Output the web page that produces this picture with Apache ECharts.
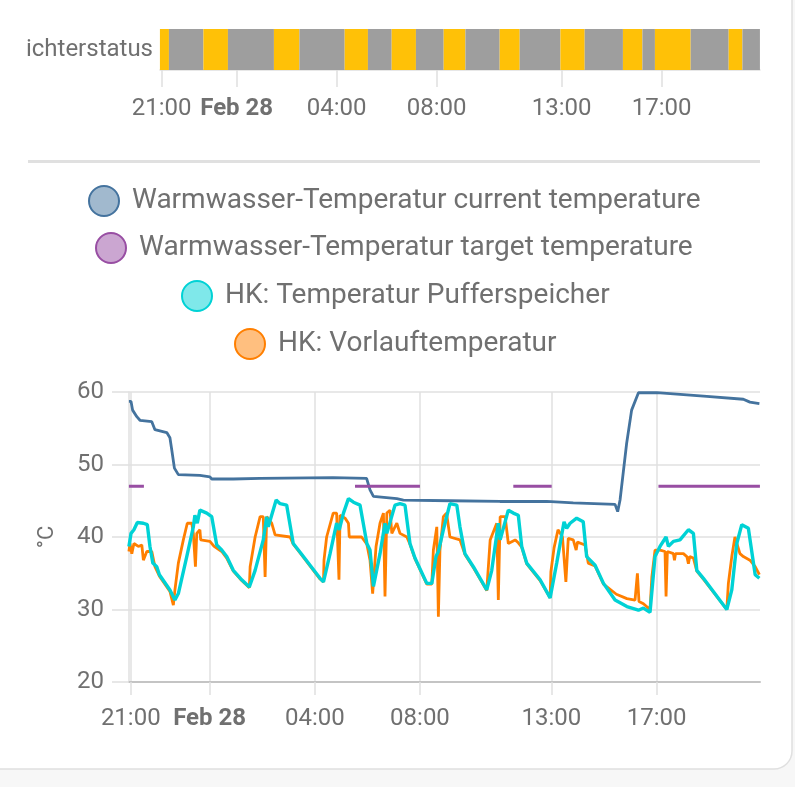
<!DOCTYPE html>
<html>
<head>
<meta charset="utf-8">
<script src="https://cdn.jsdelivr.net/npm/echarts@6/dist/echarts.min.js"></script>
<style>
html,body{margin:0;padding:0;background:#f7f7f7;}
#c{width:795px;height:787px;}
</style>
</head>
<body>
<div id="c"></div>
<script>
// ---- data (hours counted from Feb 27 00:00) ----
const rangeHours = [20.933, 44.933];
const tickHours = [21, 24, 28, 32, 37, 41];

const statusLabel = 'ichterstatus';
const statusBounds = [20.93,21.29,22.67,23.65,25.49,26.51,28.32,29.25,30.20,31.17,32.28,33.15,34.52,35.32,36.95,37.92,39.45,40.23,40.73,42.16,43.68,44.23,44.93];
const statusStates = ['on','off','on','off','on','off','on','off','on','off','on','off','on','off','on','off','on','off','on','off','on','off'];

const seriesNames = [
  'Warmwasser-Temperatur current temperature',
  'Warmwasser-Temperatur target temperature',
  'HK: Temperatur Pufferspeicher',
  'HK: Vorlauftemperatur'
];

const currentTemp = [[20.93,58.7],[21.01,58.7],[21.07,57.5],[21.23,56.6],[21.35,56.1],[21.80,55.9],[21.92,54.8],[22.37,54.4],[22.49,53.7],[22.56,52.0],[22.66,49.5],[22.81,48.6],[23.63,48.5],[24.01,48.3],[24.08,48.0],[24.90,48.0],[25.92,48.1],[28.69,48.2],[29.97,48.1],[30.10,46.5],[30.23,45.6],[31.12,45.3],[31.37,45.1],[33.14,45.0],[35.04,44.9],[36.82,44.9],[37.83,44.7],[39.42,44.5],[39.52,43.5],[39.61,45.1],[39.86,52.9],[40.05,57.5],[40.31,59.9],[41.01,59.9],[42.91,59.4],[44.30,59.0],[44.55,58.6],[44.91,58.4]];

const targetTemp = [[20.93,47],[21.50,47],[21.51,null],[29.53,47],[32.00,47],[32.01,null],[35.55,47],[37.01,47],[37.02,null],[41.07,47],[44.93,47]];

const pufferTemp = [[20.93,38.7],[21.01,40.5],[21.12,41.0],[21.25,42.0],[21.48,41.9],[21.63,41.7],[21.73,38.7],[21.84,36.4],[21.99,35.9],[22.09,34.8],[22.49,32.7],[22.68,31.3],[22.81,32.2],[23.13,37.3],[23.38,41.4],[23.44,43.0],[23.53,41.9],[23.63,43.7],[23.89,43.3],[24.08,42.8],[24.27,38.9],[24.46,38.2],[24.65,37.3],[24.90,35.4],[25.22,34.1],[25.51,33.1],[25.73,35.4],[26.04,39.6],[26.17,42.8],[26.23,41.4],[26.53,45.1],[26.68,44.6],[26.93,44.4],[27.18,39.1],[27.44,37.9],[28.20,34.3],[28.33,33.8],[28.58,37.7],[28.83,41.9],[28.93,41.0],[29.09,43.3],[29.28,45.3],[29.47,44.8],[29.72,44.4],[29.98,39.1],[30.10,38.2],[30.23,33.2],[30.48,37.7],[30.67,41.9],[30.74,40.5],[31.05,44.4],[31.24,44.6],[31.43,44.4],[31.62,39.1],[31.81,37.1],[32.26,33.6],[32.45,33.6],[32.61,37.3],[32.70,38.0],[32.89,41.0],[33.14,44.6],[33.40,44.4],[33.52,41.4],[33.71,37.7],[34.03,35.9],[34.54,32.7],[34.73,35.4],[34.98,41.9],[35.05,39.6],[35.36,43.7],[35.55,43.3],[35.74,43.0],[35.87,38.7],[36.06,36.4],[36.57,34.1],[36.95,31.6],[37.20,36.4],[37.48,42.1],[37.58,41.2],[37.71,41.9],[37.96,42.6],[38.21,42.1],[38.34,37.3],[38.66,36.1],[38.98,33.6],[39.42,31.3],[39.87,30.4],[40.31,29.9],[40.50,30.2],[40.75,29.6],[40.94,37.3],[41.13,38.7],[41.36,40.0],[41.45,38.7],[41.64,39.4],[41.89,39.6],[42.21,41.0],[42.40,40.5],[42.53,35.4],[42.78,34.3],[43.67,30.0],[43.86,32.7],[44.05,39.1],[44.24,41.7],[44.49,41.2],[44.75,34.8],[44.91,34.3]];

const vorlaufTemp = [[20.93,38.0],[20.97,39.1],[21.04,37.7],[21.12,39.1],[21.29,38.7],[21.42,38.9],[21.48,36.8],[21.61,38.0],[21.80,38.0],[21.92,35.9],[22.09,34.6],[22.49,32.5],[22.62,30.6],[22.68,32.7],[22.81,36.4],[23.00,39.6],[23.15,41.9],[23.32,41.9],[23.38,40.5],[23.46,35.9],[23.51,40.5],[23.63,41.0],[23.66,39.6],[24.01,39.4],[24.17,38.7],[24.46,38.0],[24.65,37.1],[24.90,35.3],[25.22,34.0],[25.51,33.0],[25.54,35.9],[25.73,40.0],[25.92,42.8],[26.04,42.8],[26.11,34.5],[26.17,42.8],[26.36,41.9],[26.49,40.3],[27.06,40.0],[27.18,39.0],[27.44,37.8],[28.20,34.2],[28.33,33.8],[28.35,36.8],[28.45,40.0],[28.70,43.3],[28.83,43.3],[28.92,34.1],[28.96,43.0],[29.15,42.6],[29.28,41.9],[29.31,40.0],[29.78,40.0],[29.98,39.0],[30.10,36.8],[30.20,32.2],[30.33,38.7],[30.48,41.9],[30.61,43.3],[30.67,31.8],[30.74,43.3],[30.86,43.7],[30.93,40.5],[31.12,41.9],[31.24,40.5],[31.50,40.0],[31.62,39.0],[31.81,37.0],[32.26,33.5],[32.45,33.5],[32.51,38.2],[32.64,41.4],[32.70,29.0],[32.76,38.2],[32.89,42.8],[33.01,43.3],[33.14,40.0],[33.52,39.6],[33.71,37.6],[34.03,35.8],[34.54,32.6],[34.67,39.6],[34.92,41.9],[34.98,31.3],[35.05,42.8],[35.24,42.8],[35.36,39.1],[35.62,39.6],[35.74,39.2],[35.87,38.6],[36.06,36.3],[36.57,34.0],[36.95,31.6],[36.98,35.2],[37.10,38.5],[37.25,41.0],[37.32,41.0],[37.42,40.0],[37.55,33.8],[37.64,39.8],[37.83,39.6],[37.94,38.2],[37.99,39.3],[38.28,38.9],[38.40,36.4],[38.66,36.0],[38.98,33.5],[39.47,32.1],[39.87,31.5],[40.18,31.3],[40.27,35.0],[40.33,31.1],[40.50,30.8],[40.75,30.0],[40.82,34.5],[40.94,38.2],[41.13,38.2],[41.32,38.0],[41.36,31.8],[41.41,38.0],[41.64,37.7],[41.68,36.8],[41.72,37.7],[42.02,37.7],[42.15,37.3],[42.21,36.3],[42.26,37.3],[42.40,37.1],[42.53,35.3],[42.78,34.2],[43.67,30.0],[43.73,33.6],[43.86,37.3],[43.98,40.0],[44.17,37.7],[44.30,37.3],[44.55,36.8],[44.75,35.9],[44.91,34.8]];

// ---- helpers ----
const BASE = Date.UTC(2025, 1, 27);
const toMs = h => BASE + h * 3600000;
const conv = arr => arr.map(p => [toMs(p[0]), p[1]]);
const pad = n => (n < 10 ? '0' : '') + n;
const fmt = v => {
  const d = new Date(v);
  if (d.getUTCHours() === 0 && d.getUTCMinutes() === 0) return '{b|Feb ' + d.getUTCDate() + '}';
  return pad(d.getUTCHours()) + ':' + pad(d.getUTCMinutes());
};
const tickMs = tickHours.map(toMs);
const FONT = 'Roboto';
const TXT = '#707070';
const AX = 24;
const colors = ['#44739e', '#984ea3', '#00d2d5', '#ff7f00'];
const fills = ['rgba(68,115,158,0.5)', 'rgba(152,78,163,0.5)', 'rgba(0,210,213,0.5)', 'rgba(255,127,0,0.5)'];
const stateColor = { on: '#ffc107', off: '#9e9e9e' };

const statusData = statusStates.map((s, i) => [toMs(statusBounds[i]), toMs(statusBounds[i + 1])]);

const legendTops = [180, 227, 275, 323];
const legendLefts = [83, 90, 176, 229];

const chart = echarts.init(document.getElementById('c'));
chart.setOption({
  animation: false,
  textStyle: { fontFamily: FONT },
  graphic: [
    { type: 'rect', z: -10, shape: { x: -20, y: -20, width: 812, height: 789, r: 18 }, style: { fill: '#ffffff', stroke: '#e0e0e0', lineWidth: 1.5 } },
    { type: 'rect', shape: { x: 28, y: 160, width: 732, height: 3 }, style: { fill: '#e0e0e0' } }
  ],
  legend: seriesNames.map((n, i) => ({
    data: [{ name: n, itemStyle: { color: fills[i], borderColor: colors[i], borderWidth: 2 } }],
    left: legendLefts[i], top: legendTops[i],
    icon: 'circle', itemWidth: 30, itemHeight: 30,
    selectedMode: false,
    textStyle: { fontSize: 28, color: TXT, fontFamily: FONT, padding: [0, 0, 0, 8] }
  })),
  grid: [
    { left: 160, right: 35, top: 29, height: 41 },
    { left: 129, right: 35, top: 392, bottom: 105 }
  ],
  xAxis: [
    {
      gridIndex: 0, type: 'value', min: toMs(rangeHours[0]), max: toMs(rangeHours[1]),
      axisLine: { show: true, lineStyle: { color: '#e0e0e0', width: 1.5 } },
      axisTick: { show: true, length: 17, lineStyle: { color: '#e0e0e0', width: 1.5 }, customValues: tickMs },
      axisLabel: { customValues: tickMs, formatter: fmt, fontSize: AX, color: TXT, margin: 27, fontFamily: FONT, rich: { b: { fontWeight: 'bold', fontSize: AX, color: TXT, fontFamily: FONT } } },
      splitLine: { show: false }
    },
    {
      gridIndex: 1, type: 'value', min: toMs(rangeHours[0]), max: toMs(rangeHours[1]),
      axisLine: { show: true, lineStyle: { color: '#c4c4c4', width: 2 } },
      axisTick: { show: true, length: 13, lineStyle: { color: '#e0e0e0', width: 1.5 }, customValues: tickMs },
      axisLabel: { customValues: tickMs, formatter: fmt, fontSize: AX, color: TXT, margin: 25, fontFamily: FONT, rich: { b: { fontWeight: 'bold', fontSize: AX, color: TXT, fontFamily: FONT } } },
      splitLine: { show: true, lineStyle: { color: '#e0e0e0', width: 1.5 } }
    }
  ],
  yAxis: [
    {
      gridIndex: 0, type: 'category', data: [statusLabel],
      axisLine: { show: false }, axisTick: { show: false },
      axisLabel: { fontSize: AX, color: TXT, margin: 7, fontFamily: FONT }
    },
    {
      gridIndex: 1, type: 'value', min: 20, max: 60, interval: 10,
      name: '°C', nameLocation: 'middle', nameGap: 71,
      nameTextStyle: { fontSize: 22, color: TXT, fontFamily: FONT },
      axisLine: { show: true, lineStyle: { color: '#e0e0e0', width: 1.5 } },
      axisTick: { show: true, length: 17, lineStyle: { color: '#e0e0e0', width: 1.5 } },
      axisLabel: { fontSize: AX, color: TXT, margin: 25, fontFamily: FONT },
      splitLine: { show: true, lineStyle: { color: '#e0e0e0', width: 1.5 } }
    }
  ],
  series: [
    {
      type: 'custom', name: statusLabel, xAxisIndex: 0, yAxisIndex: 0,
      encode: { x: [0, 1] },
      renderItem: function (params, api) {
        const s = api.coord([api.value(0), 0]);
        const e = api.coord([api.value(1), 0]);
        const h = api.size([0, 1])[1];
        return { type: 'rect', shape: { x: s[0], y: s[1] - h / 2, width: e[0] - s[0], height: h },
          style: { fill: stateColor[statusStates[params.dataIndex]] } };
      },
      data: statusData
    },
    { type: 'line', name: seriesNames[0], xAxisIndex: 1, yAxisIndex: 1, data: conv(currentTemp), showSymbol: false, lineStyle: { color: colors[0], width: 2.8 }, itemStyle: { color: colors[0] } },
    { type: 'line', name: seriesNames[1], xAxisIndex: 1, yAxisIndex: 1, data: conv(targetTemp), showSymbol: false, connectNulls: false, lineStyle: { color: colors[1], width: 3 }, itemStyle: { color: colors[1] } },
    { type: 'line', name: seriesNames[3], xAxisIndex: 1, yAxisIndex: 1, data: conv(vorlaufTemp), showSymbol: false, lineStyle: { color: colors[3], width: 2.8 }, itemStyle: { color: colors[3] } },
    { type: 'line', name: seriesNames[2], xAxisIndex: 1, yAxisIndex: 1, data: conv(pufferTemp), showSymbol: false, lineStyle: { color: colors[2], width: 3.4 }, itemStyle: { color: colors[2] } }
  ]
});
</script>
</body>
</html>
